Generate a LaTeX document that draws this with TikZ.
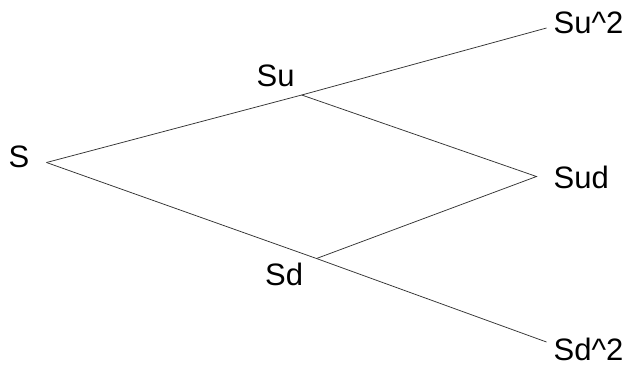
\documentclass[tikz,border=0pt]{standalone}
\usepackage{fontspec}
\setmainfont{Liberation Sans}
\begin{document}
\begin{tikzpicture}[x=1pt,y=-1pt,
  branch/.style={line width=0.75pt,draw=black!80},
  lbl/.style={anchor=base west,inner sep=0pt,font=\fontsize{31}{31}\selectfont}]
\useasboundingbox (0,0) rectangle (628,368);
% tree vertices
\coordinate (s)   at (46.5,162.5);
\coordinate (su)  at (301.7,95);
\coordinate (suu) at (546.5,28);
\coordinate (sud) at (536.5,176.5);
\coordinate (sd)  at (316.5,258.5);
\coordinate (sdd) at (546.5,342);
% branches
\draw[branch] (s) -- (su) -- (suu);
\draw[branch] (su) -- (sud) -- (sd);
\draw[branch] (s) -- (sd) -- (sdd);
% labels
\node[lbl] (ls)   at (8.5,167.5)   {S};
\node[lbl] (lsu)  at (256.5,86.5)  {Su};
\node[lbl] (lsuu) at (553.5,33.3)  {Su\^{}2};
\node[lbl] (lsud) at (553.5,188.3) {Sud};
\node[lbl] (lsd)  at (265,285) {Sd};
\node[lbl] (lsdd) at (553.5,360)   {Sd\^{}2};
\end{tikzpicture}
\end{document}
